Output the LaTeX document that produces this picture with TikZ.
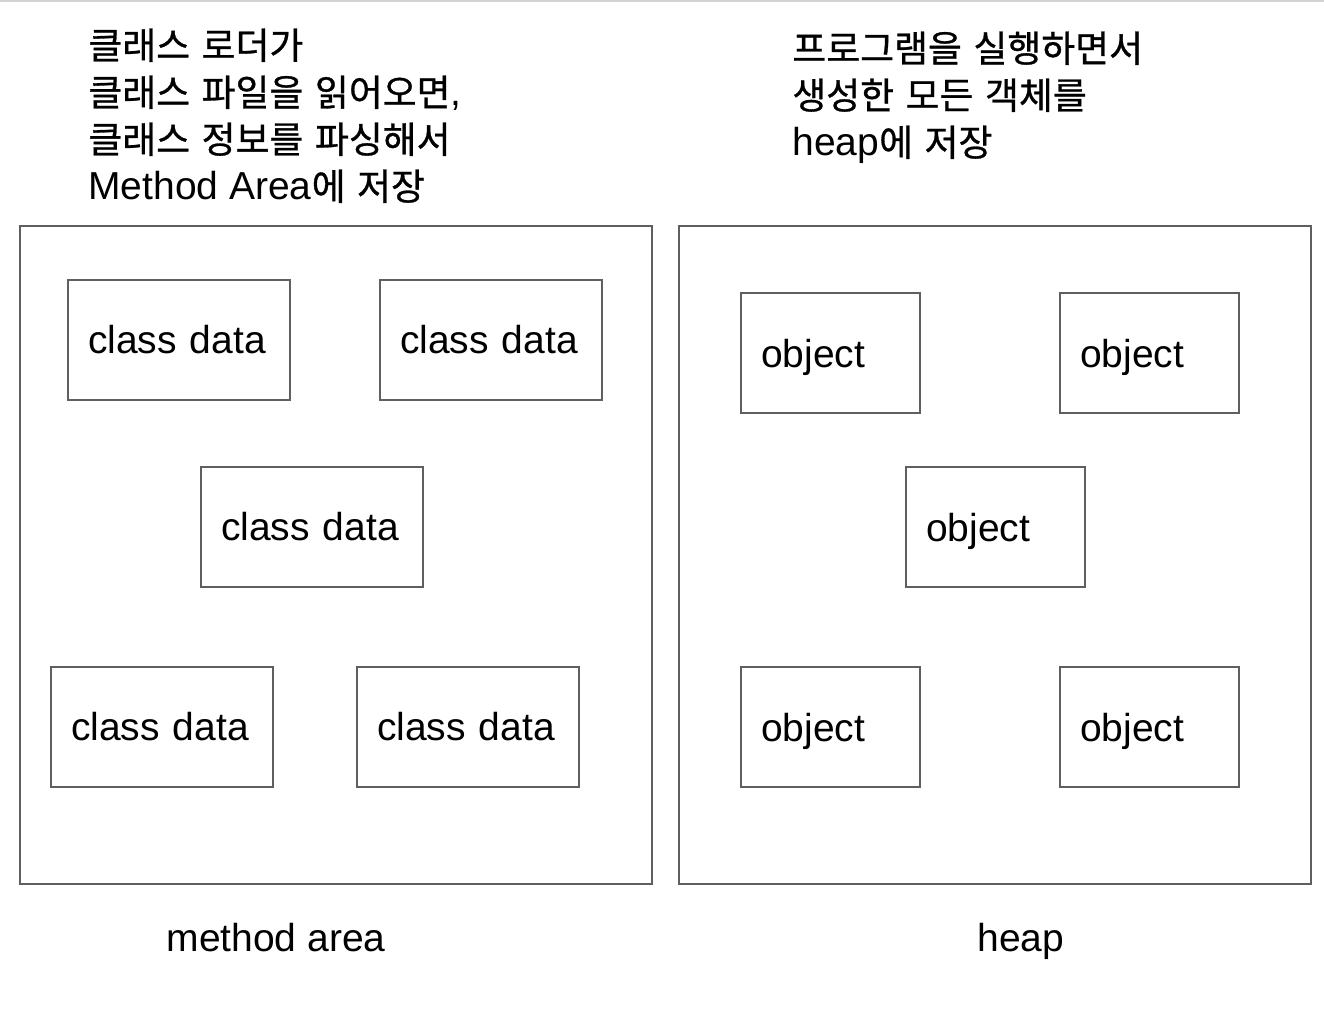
\documentclass[tikz,border=0pt]{standalone}
\usepackage{fontspec}
\setmainfont{Liberation Sans}
\newfontfamily\krfont[Scale=0.945,WordSpace=1.4,FakeBold=0.8]{Noto Sans CJK KR}
\newcommand{\ko}[1]{{\krfont #1}}
\usetikzlibrary{positioning}
\definecolor{linegray}{RGB}{95,95,95}
\definecolor{topgray}{RGB}{210,210,210}

\begin{document}
\begin{tikzpicture}[x=0.5pt,y=-0.5pt,
	every node/.style={font=\fontsize{19.5}{23.5}\selectfont},
	area/.style={draw=linegray, line width=0.75pt, minimum width=316pt, minimum height=329pt, inner sep=0pt},
	classbox/.style={draw=linegray, line width=0.75pt, fill=white, minimum width=111pt, minimum height=60pt, inner xsep=10pt, text width=91pt, align=left},
	objbox/.style={classbox, minimum width=89.5pt, text width=69.5pt, text depth=0pt},
	note/.style={align=left, anchor=base west, inner sep=0pt}]
	\useasboundingbox (0,0) rectangle (1324,1016);
	\draw[topgray, line width=1pt] (0,1) -- (1324,1);
	% the two areas
	\node[area] at (336,555) (marea) {};
	\node[area] at (995,555) (heap) {};
	\node[anchor=base, inner sep=0pt] at (276,951) (mareaname) {method area};
	\node[anchor=base, inner sep=0pt] at (1021,951) (heapname) {heap};
	% notes (base = last line)
	\node[note] at (88,200) (mareanote) {\ko{클래스 로더가}\\\ko{클래스 파일을 읽어오면},\\\ko{클래스 정보를 파싱해서}\\Method Area\ko{에 저장}};
	\node[note] at (792,156) (heapnote) {\ko{프로그램을 실행하면서}\\\ko{생성한 모든 객체를}\\heap\ko{에 저장}};
	% method area
	\node[classbox] at (179,340) (cd1) {class data};
	\node[classbox] at (491,340) (cd2) {class data};
	\node[classbox] at (312,527) (cd3) {class data};
	\node[classbox] at (162,727) (cd4) {class data};
	\node[classbox] at (468,727) (cd5) {class data};
	% heap
	\node[objbox] at (830.5,353) (obj1) {object};
	\node[objbox] at (1149.5,353) (obj2) {object};
	\node[objbox] at (995.5,527) (obj3) {object};
	\node[objbox] at (830.5,727) (obj4) {object};
	\node[objbox] at (1149.5,727) (obj5) {object};
\end{tikzpicture}
\end{document}
